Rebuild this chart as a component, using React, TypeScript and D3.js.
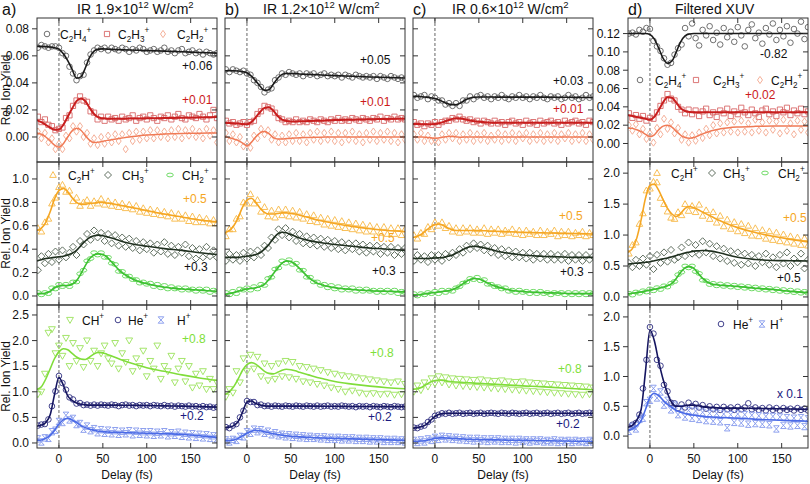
import React from 'react';
import * as d3 from 'd3';

// ---------- delays ----------
const DELAYS = [-24,-20,-16,-12,-8,-4,0,4,8,12,16,20,24,28,32,36,40,44,48,52,56,60,64,68,72,76,80,84,88,92,96,100,104,108,112,116,120,124,128,132,136,140,144,148,152,156,160,164,168,172,176,180];
const FIT_DELAYS = [-25,-20,-15,-10,-5,0,5,10,15,20,25,30,35,40,45,50,55,60,70,80,90,100,120,140,160,180];
const X_TICKS = [0, 50, 100, 150];

// ---------- row 1 (units of 0.001) ----------
const A_C2H4 = [66,68,67,66,67,67,66,62,60,52,47,42,45,46,55,61,64,66,65,66,64,66,65,64,66,65,63,65,64,66,65,63,64,65,63,64,66,63,64,62,64,65,62,63,64,62,63,61,63,62,61,62];
const A_C2H4_FIT = [67,67,66.8,66.5,66,65,61.5,56.5,50,43.5,44.5,51,59,63.5,65,65.2,65,64.8,64.5,64.3,64.1,63.9,63.5,63,62.5,62];
const A_C2H3 = [15,11,13,9,8,5,6,7,14,16,23,27,30,27,26,19,18,13,15,12,15,13,14,12,15,13,14,16,12,14,15,13,16,14,12,15,14,16,13,15,17,14,13,16,15,14,17,15,13,16,20,14];
const A_C2H3_FIT = [12.5,11,9,7,5.3,5.5,9,15,21,26.5,28.5,26.5,21.5,17,14.5,13.8,13.5,13.5,13.5,13.6,13.7,13.8,14,14.2,14.5,14.8];
const A_C2H2 = [4,-1,3,-4,-1,-9,-5,-9,1,-1,8,4,8,0,3,-5,-1,-6,0,-5,1,-4,2,-3,2,-9,3,-3,4,-2,4,-1,5,-1,5,0,4,-1,5,0,6,-1,5,1,6,0,4,-1,6,1,5,-4];
const A_C2H2_FIT = [3,2,0,-3,-6,-7.5,-5,0,4.5,6.5,5,1,-2.5,-4,-3.8,-3.2,-2.5,-2,-1,0,0.8,1.5,2.2,2.6,2.8,3];

const B_C2H4 = [50,48,50,49,48,49,47,46,42,40,37,33,35,36,42,44,47,46,48,47,46,47,45,47,46,47,45,46,47,45,46,45,46,44,46,45,44,46,45,44,45,44,45,43,45,44,43,45,44,43,44,43];
const B_C2H4_FIT = [49,49,49,48.8,48.3,47.5,45,41.5,37.5,34.5,35,39,43.5,46.3,47,47,46.8,46.6,46.3,46,45.7,45.4,44.9,44.4,44,43.6];
const B_C2H3 = [12,10,11,9,10,11,9,11,12,17,19,23,22,21,18,14,13,11,12,11,13,11,12,11,13,12,11,13,12,11,13,12,14,12,13,12,14,13,12,14,13,12,14,13,15,12,14,13,15,13,14,13];
const B_C2H3_FIT = [10.5,10.3,10.1,9.9,9.6,9.5,11,14.5,18.5,21.5,22,19.5,15.5,12.8,11.8,11.5,11.5,11.6,11.8,12,12.2,12.5,12.8,13.1,13.3,13.5];
const B_C2H2 = [3,-3,2,-4,0,-7,-5,-8,1,-1,6,2,5,-2,2,-4,1,-4,2,-3,3,-3,2,-4,3,-2,4,-3,3,-2,4,-3,3,-4,3,-2,4,-3,2,-4,3,-2,4,-3,3,-2,4,-3,3,-4,2,-2];
const B_C2H2_FIT = [0,-0.5,-1.5,-2.5,-4.5,-6.5,-4,0,3,4,2.5,-0.5,-1.5,-1.5,-1.2,-1,-0.8,-0.6,-0.4,-0.2,0,0,0,0,0,0];

const C_C2H4 = [31,29,30,31,28,30,29,27,27,24,25,23,25,23,27,27,30,28,30,31,29,30,28,30,29,31,29,28,30,29,31,29,30,28,30,29,31,29,28,30,29,30,28,29,31,29,30,28,29,31,29,30];
const C_C2H4_FIT = [30,30,29.8,29.5,29,28.5,27.3,25.8,24.5,23.8,24,25.5,27.5,28.8,29.4,29.6,29.6,29.6,29.5,29.5,29.5,29.5,29.5,29.4,29.3,29.2];
const C_C2H3 = [11,9,10,8,10,9,11,9,11,12,12,14,13,15,13,12,13,11,12,10,12,11,10,12,10,11,9,11,12,10,11,9,12,10,11,9,12,10,11,12,10,11,9,12,10,11,12,10,11,9,12,11];
const C_C2H3_FIT = [9.6,9.6,9.5,9.5,9.5,9.6,10.2,11.2,12.4,13.4,13.8,13.6,12.9,12.2,11.6,11.2,11,10.8,10.6,10.5,10.5,10.5,10.5,10.5,10.5,10.5];
const C_C2H2 = [2,-2,3,-3,1,-3,-2,-4,2,-2,3,-1,3,-3,2,-2,3,-3,2,-2,3,-3,1,-2,3,-3,2,-2,3,-3,2,-1,3,-3,2,-2,3,-3,2,-2,3,-3,2,-1,3,-3,2,-2,3,-3,2,-2];
const C_C2H2_FIT = [0,0,0,-0.2,-0.6,-1,-0.6,0,0.3,0.3,0,-0.2,0,0,0,0,0,0,0,0,0,0,0,0,0,0];

const D_C2H4 = [120,121,119,124,122,126,125,112,106,101,93,86,88,97,104,108,126,117,131,115,107,124,118,128,113,121,108,126,116,122,111,127,118,106,124,130,115,121,109,126,119,131,113,124,117,128,110,125,120,133,114,127];
const D_C2H4_FIT = [120,120,120,120,120,119,114,104,93,87.5,90,100,111,117.5,119.5,120,120,120,120,120,120,120,120,120,120,120];
const D_C2H3 = [33,28,31,27,30,25,28,27,34,41,47,54,49,47,40,37,33,37,32,36,30,35,38,31,34,29,36,33,38,30,35,32,39,34,31,37,33,29,36,38,32,35,30,37,34,39,31,36,33,38,32,35];
const D_C2H3_FIT = [31,30,29,28,27,26,29,36.5,45,50.5,50,44.5,38.5,35.5,34.5,34,34,34,34,34,34,34,34,34,34,34];
const D_C2H2 = [20,14,21,10,16,5,11,1,17,10,27,16,23,11,17,4,10,1,9,3,12,6,16,9,20,11,22,12,23,13,24,12,25,13,22,12,26,14,23,12,25,15,24,11,26,14,22,10,25,15,24,12];
const D_C2H2_FIT = [17,16.5,15,13,10,7.5,9.5,15,19,20,18,13.5,9,6.5,5.7,6.5,8.5,10.5,14,16,17.3,18,18.7,19,19,19];

// ---------- row 2 (units of 0.01) ----------
const A_C2H = [58,55,63,66,79,84,93,95,89,90,81,84,77,80,82,77,81,79,83,78,81,77,80,76,79,75,78,74,77,72,75,71,74,70,73,69,72,68,71,66,70,66,69,64,68,63,67,63,66,62,65,62];
const A_C2H_FIT = [56,58,63,72,83,90,92,89,84,80,78.5,78.5,79,79.5,80,80,79.5,79,77.5,76,74.5,73,70,67.5,65,63.5];
const A_CH3 = [22,34,28,36,29,38,31,39,33,37,42,35,47,44,53,48,56,50,54,47,53,45,52,43,50,42,49,41,47,39,46,40,45,37,44,38,46,36,43,35,42,37,44,34,41,32,40,33,42,34,39,33];
const A_CH3_FIT = [30,31,32,32.5,33,33.5,34,35,36.5,39,43,47,50,51.5,52,51.5,50.5,49.5,47,45,43.5,42.5,40.5,39,37,35.5];
const A_CH2 = [3,1,3,2,7,6,10,8,10,8,12,12,19,22,30,32,37,35,37,33,33,28,27,21,21,17,17,14,14,11,12,10,11,8,10,7,9,6,8,6,7,5,7,5,6,4,6,4,6,3,5,4];
const A_CH2_FIT = [2,2,2.5,4,7,8.5,9,9,10,13,19,26,32,35,36,35.5,33,29,21,16,12.5,10.5,7.5,6,5,4];

const B_C2H = [51,57,57,66,68,80,79,87,79,82,72,76,68,73,67,74,69,74,68,73,67,72,66,70,64,69,63,67,61,66,60,65,59,64,58,63,57,62,56,61,55,60,55,59,54,59,53,58,53,58,52,57];
const B_C2H_FIT = [54,56,60,67,76,82,83.5,80,75,71.5,70,70,70.5,71,71,70.5,70,69,67,65,63.5,62,59.5,57.5,56,55];
const B_CH3 = [30,36,31,35,30,37,32,38,33,39,35,43,41,50,48,57,52,58,50,55,47,53,45,51,44,50,43,49,42,48,41,47,40,46,39,45,40,45,38,44,37,43,38,43,36,42,37,42,35,41,36,41];
const B_CH3_FIT = [33,33,33,33,33.5,34,34.5,35.5,37,40,44,49,53,54.5,54,52.5,51,49.5,47.5,46,45,44,42.5,41,40,39];
const B_CH2 = [3,1,4,2,6,5,7,5,8,6,10,9,15,16,23,24,30,28,31,27,28,22,22,16,16,12,12,9,10,7,9,6,8,5,7,5,7,4,6,4,6,4,5,3,5,3,5,3,5,2,4,3];
const B_CH2_FIT = [1.5,2,3,4,5,6,6.5,7,8,10,14,19,24,28,30,29.5,27,23.5,16,11,8.5,7,5.5,4.5,4,3.5];

const C_C2H = [52,49,54,53,59,57,63,60,63,58,60,55,58,54,58,55,58,54,57,54,58,53,57,54,57,53,56,54,57,53,56,52,56,53,55,52,56,52,55,53,56,51,55,52,55,51,54,52,55,51,54,52];
const C_C2H_FIT = [50,51,53,56,59,61,61.5,60,58,56.5,56,56,56,56,56,56,55.8,55.6,55.3,55,54.7,54.5,54,53.7,53.4,53];
const C_CH3 = [30,35,31,34,29,35,31,35,30,36,33,37,35,40,37,43,40,45,41,44,39,43,37,41,35,40,34,39,33,38,33,37,32,37,31,36,32,36,31,36,31,35,31,36,30,35,31,35,30,35,31,34];
const C_CH3_FIT = [32,32,32,32,32.2,32.5,32.7,33,34,35,37,39,40.8,42,42.5,42,41.3,40.5,38.5,37,36,35,34,33.5,33,33];
const C_CH2 = [2,0,2,1,3,2,4,2,5,3,5,4,7,8,11,12,15,14,16,13,14,10,10,8,8,6,7,4,5,3,5,3,4,2,4,2,4,2,3,1,3,2,3,1,3,1,3,1,3,1,3,2];
const C_CH2_FIT = [1,1,1.5,2,2.5,3,3.5,4,4.5,5.5,7,9.5,12,14,15,14.5,13,11,8,6,4.5,3.8,3,2.5,2,2];

const D_C2H = [70,84,88,118,135,172,175,186,185,160,150,138,128,126,137,132,150,139,147,137,149,131,140,126,137,120,131,114,125,110,121,106,118,103,115,99,111,98,108,94,106,92,104,90,101,88,98,86,96,84,95,83];
const D_C2H_FIT = [72,78,95,125,160,180,182,172,157,143,134,130,135,143,146,144,141,137,130,123,117,112,104,98,93,89];
const D_CH3 = [55,48,60,50,62,52,66,45,68,55,72,57,76,60,64,80,66,88,70,84,68,90,72,86,66,82,62,78,58,74,55,72,52,70,54,68,50,66,56,70,52,64,48,68,54,72,50,62,56,70,46,60];
const D_CH3_FIT = [53,54,54.5,55,56,57,58.5,60,61.5,63,65,67,69,71,72.5,74,74.5,75,74,71,67.5,64,60.5,59,58.5,58];
const D_CH2 = [6,3,8,6,10,8,13,10,15,12,18,16,22,25,36,40,50,47,50,41,38,27,26,20,22,18,21,17,20,16,19,15,18,14,17,13,16,12,15,11,14,10,13,9,12,8,11,7,10,6,9,6];
const D_CH2_FIT = [5,6,7,8,9.5,11,12.5,14,16,18,22,30,40,47,49,46,38,30,21,19,18,17,14,12,9,7];

// ---------- row 3 (units of 0.01) ----------
const A_CH = [95,100,135,215,222,175,190,170,205,150,195,160,185,148,200,160,180,150,175,190,165,155,195,145,175,158,200,140,165,150,180,130,160,145,190,125,150,140,170,118,145,160,120,150,108,135,112,140,105,125,105,118];
const A_CH_FIT = [105,110,125,145,165,178,184,182,175,168,164,163,168,174,177,176,173,170,163,157,152,147,140,133,127,122];
const A_HE = [34,36,37,46,72,101,131,117,104,89,85,77,78,74,75,73,75,73,75,74,73,75,74,72,74,75,73,74,72,74,73,74,72,74,73,72,74,72,73,71,73,72,71,73,71,72,70,72,70,71,69,70];
const A_HE_FIT = [33,35,40,55,95,128,113,92,83,78,75.5,74.5,74,74,74,74,74,74,73.8,73.6,73.4,73.2,72.5,72,71,70];
const A_H = [8,2,10,9,22,25,42,40,54,45,48,36,38,27,33,24,28,20,26,19,25,18,24,17,23,18,24,16,23,17,22,16,22,15,21,16,22,14,20,15,21,13,19,12,18,11,17,10,16,9,14,8];
const A_H_FIT = [5,6,9,15,25,37,45,48,45,40,34,30,27,25,23,22,21.5,21,20.5,20,19.5,19,18,17,14,11];

const B_CH = [90,105,98,140,118,165,140,172,145,168,130,155,122,150,125,155,130,160,128,158,125,150,120,148,118,145,115,142,112,138,108,135,105,132,100,130,102,128,98,126,96,124,97,122,95,120,96,118,94,120,95,115];
const B_CH_FIT = [95,100,110,125,142,153,157,154,147,140,136,135,138,142,144,143,141,138,133,128,124,120,115,111,108,106];
const B_HE = [31,29,34,37,50,63,82,80,80,74,75,72,73,71,73,72,71,73,72,71,73,72,71,73,72,71,73,71,72,73,71,72,71,73,72,71,72,70,72,71,72,70,72,71,70,72,71,70,72,71,70,71];
const B_HE_FIT = [30,31,34,42,60,80,82,77,74,72.5,72,72,72,72,72,72,72,72,72,72,71.8,71.6,71.4,71.2,71,71];
const B_H = [6,2,7,5,13,12,22,19,27,22,26,19,23,16,20,14,17,12,16,11,15,10,14,9,13,9,12,8,12,7,11,7,11,6,10,6,10,5,9,5,9,4,8,4,8,3,7,3,7,3,6,2];
const B_H_FIT = [4,5,6,9,14,19,23,25,24,22,20,18,16.5,15,14,13,12.5,12,11,10,9.5,9,8,7,6,5];

const C_CH = [100,112,103,118,110,126,116,130,118,128,114,126,112,125,111,124,110,123,109,124,108,122,107,121,106,122,105,120,104,119,103,120,102,118,101,117,100,116,99,115,98,114,97,113,96,112,95,111,94,110,95,108];
const C_CH_FIT = [105,106,109,114,119,122,123,122,120.5,119.5,119,118.5,118,117.5,117,116.5,116,115.5,114.5,113.5,112.5,111.5,110,108,106,104];
const C_HE = [30,29,32,34,41,46,53,55,58,57,59,57,58,59,57,58,59,57,58,59,57,58,59,58,57,59,58,57,59,58,57,58,59,57,58,59,57,58,59,57,58,59,57,58,59,57,58,59,57,58,59,58];
const C_HE_FIT = [29,30,32,36,44,52,56,57.5,58,58,58,58,58,58,58,58,58,58,58,58,58,58,58,58,58,58];
const C_H = [5,1,6,2,8,5,11,7,13,8,12,7,11,6,10,5,9,4,9,4,8,3,8,4,8,3,7,3,7,2,7,3,6,2,6,3,6,2,5,2,6,1,5,2,5,1,5,2,4,1,5,2];
const C_H_FIT = [3,3.5,4,5,7,9,10,10,9.5,9,8.5,8,7.5,7,6.8,6.6,6.4,6.2,6,5.6,5.3,5,4.5,4,3.5,3];

const D_HE = [14,19,22,36,80,128,183,172,128,118,86,75,56,55,47,53,48,56,50,54,48,52,46,50,45,49,44,49,45,48,44,49,45,48,55,45,48,44,47,43,48,44,47,43,47,44,46,43,47,44,46,43];
const D_HE_FIT = [15,18,27,45,110,178,160,125,95,72,56,50,50,51,52,52,51,49.5,48,47,47,47,46.5,46,45.5,45];
const D_H = [8,16,12,28,30,56,60,80,64,74,52,60,44,52,36,46,32,43,30,42,28,40,26,38,25,38,24,37,14,36,23,37,22,36,20,35,21,34,20,33,19,33,12,32,18,31,17,30,18,31,16,29];
const D_H_FIT = [10,12,17,26,45,65,72,68,60,53,48,43,40,38,36,35,34,33,32,31,30.5,30,28,27,26,25];

// ---------- styling ----------
const FONT = '"Liberation Sans", Arial, Helvetica, sans-serif';
const STY: Record<string, { sym: string; mk: string; ln: string; lw: number }> = {
  C2H4: { sym: 'circle', mk: '#606060', ln: '#1a1a1a', lw: 1.6 },
  C2H3: { sym: 'square', mk: '#d86868', ln: '#c81e1e', lw: 2 },
  C2H2: { sym: 'diamondTall', mk: '#f3a68c', ln: '#f07a55', lw: 1.5 },
  C2H: { sym: 'triUp', mk: '#f7b845', ln: '#f5a623', lw: 1.6 },
  CH3: { sym: 'diamond', mk: '#4d5e4d', ln: '#1f2f1f', lw: 1.6 },
  CH2: { sym: 'ellipse', mk: '#5fd655', ln: '#3cc030', lw: 1.6 },
  CH: { sym: 'triDown', mk: '#9ae25a', ln: '#80dd3a', lw: 1.6 },
  HE: { sym: 'circle', mk: '#2e2e80', ln: '#151560', lw: 1.6 },
  H: { sym: 'hourglass', mk: '#8196ec', ln: '#4a6ae6', lw: 1.6 },
};
const SYM_PATH: Record<string, string> = {
  square: 'M-2.6,-2.6h5.2v5.2h-5.2z',
  diamondTall: 'M0,-3.6L2.5,0L0,3.6L-2.5,0Z',
  diamond: 'M0,-3.5L3.5,0L0,3.5L-3.5,0Z',
  triUp: 'M0,-3.4L3.3,2.4L-3.3,2.4Z',
  triDown: 'M0,3.4L3.4,-2.6L-3.4,-2.6Z',
  hourglass: 'M-2.8,-3.2L2.8,-3.2L-2.8,3.2L2.8,3.2Z',
};

const COLS = [37, 225, 413, 628];
const PW = 180;
const ROWS: [number, number][] = [[18, 162], [162, 305], [305, 448]];

type S = { key: string; pts: number[]; fit: number[] };
type Cell = {
  row: number; col: number; dom: [number, number]; ticks: number[]; fmt: string; unit: number;
  series: S[];
  legend?: { y: number; items: { key: string; mx: number; tx: number; label: string }[] };
  notes: { text: string; color: string; x: number; y: number }[];
};

const T1 = [0, 0.02, 0.04, 0.06, 0.08];
const T1D = [0, 0.02, 0.04, 0.06, 0.08, 0.1, 0.12];
const T2 = [0, 0.2, 0.4, 0.6, 0.8, 1.0];
const T3 = [0, 0.5, 1.0, 1.5, 2.0, 2.5];
const TD = [0, 0.5, 1.0, 1.5, 2.0];

const RED = '#cc1a1a', ORANGE = '#f5a623', GREEN = '#7ee03a', NAVY = '#1a1a80', BLACK = '#111';

const LEG1 = (x: number[], t: number[], y: number) => ({ y, items: [
  { key: 'C2H4', mx: x[0], tx: t[0], label: 'C_2H_4^+' },
  { key: 'C2H3', mx: x[1], tx: t[1], label: 'C_2H_3^+' },
  { key: 'C2H2', mx: x[2], tx: t[2], label: 'C_2H_2^+' },
] });
const LEG2 = (x: number[], t: number[], y: number) => ({ y, items: [
  { key: 'C2H', mx: x[0], tx: t[0], label: 'C_2H^+' },
  { key: 'CH3', mx: x[1], tx: t[1], label: 'CH_3^+' },
  { key: 'CH2', mx: x[2], tx: t[2], label: 'CH_2^+' },
] });

const CELLS: Cell[] = [
  { row: 0, col: 0, dom: [-0.0185, 0.088], ticks: T1, fmt: '.2f', unit: 0.001,
    series: [{ key: 'C2H4', pts: A_C2H4, fit: A_C2H4_FIT }, { key: 'C2H3', pts: A_C2H3, fit: A_C2H3_FIT }, { key: 'C2H2', pts: A_C2H2, fit: A_C2H2_FIT }],
    legend: LEG1([10, 70, 126], [23, 81, 140], 16),
    notes: [{ text: '+0.06', color: BLACK, x: 145, y: 52 }, { text: '+0.01', color: RED, x: 145, y: 86 }] },
  { row: 0, col: 1, dom: [-0.0185, 0.088], ticks: T1, fmt: '.2f', unit: 0.001,
    series: [{ key: 'C2H4', pts: B_C2H4, fit: B_C2H4_FIT }, { key: 'C2H3', pts: B_C2H3, fit: B_C2H3_FIT }, { key: 'C2H2', pts: B_C2H2, fit: B_C2H2_FIT }],
    notes: [{ text: '+0.05', color: BLACK, x: 135, y: 46 }, { text: '+0.01', color: RED, x: 135, y: 88 }] },
  { row: 0, col: 2, dom: [-0.0185, 0.088], ticks: T1, fmt: '.2f', unit: 0.001,
    series: [{ key: 'C2H4', pts: C_C2H4, fit: C_C2H4_FIT }, { key: 'C2H3', pts: C_C2H3, fit: C_C2H3_FIT }, { key: 'C2H2', pts: C_C2H2, fit: C_C2H2_FIT }],
    notes: [{ text: '+0.03', color: BLACK, x: 140, y: 67 }, { text: '+0.01', color: RED, x: 140, y: 95 }] },
  { row: 0, col: 3, dom: [-0.0202, 0.137], ticks: T1D, fmt: '.2f', unit: 0.001,
    series: [{ key: 'C2H4', pts: D_C2H4, fit: D_C2H4_FIT }, { key: 'C2H3', pts: D_C2H3, fit: D_C2H3_FIT }, { key: 'C2H2', pts: D_C2H2, fit: D_C2H2_FIT }],
    legend: LEG1([12, 68, 132], [27, 85, 143], 62),
    notes: [{ text: '-0.82', color: BLACK, x: 132, y: 40 }, { text: '+0.02', color: RED, x: 117, y: 81 }] },

  { row: 1, col: 0, dom: [-0.077, 1.145], ticks: T2, fmt: '.1f', unit: 0.01,
    series: [{ key: 'C2H', pts: A_C2H, fit: A_C2H_FIT }, { key: 'CH3', pts: A_CH3, fit: A_CH3_FIT }, { key: 'CH2', pts: A_CH2, fit: A_CH2_FIT }],
    legend: LEG2([16, 71, 133], [31, 85, 145], 13),
    notes: [{ text: '+0.5', color: ORANGE, x: 146, y: 41 }, { text: '+0.3', color: BLACK, x: 147, y: 109 }] },
  { row: 1, col: 1, dom: [-0.077, 1.145], ticks: T2, fmt: '.1f', unit: 0.01,
    series: [{ key: 'C2H', pts: B_C2H, fit: B_C2H_FIT }, { key: 'CH3', pts: B_CH3, fit: B_CH3_FIT }, { key: 'CH2', pts: B_CH2, fit: B_CH2_FIT }],
    notes: [{ text: '+0.5', color: ORANGE, x: 146, y: 80 }, { text: '+0.3', color: BLACK, x: 147, y: 113 }] },
  { row: 1, col: 2, dom: [-0.077, 1.145], ticks: T2, fmt: '.1f', unit: 0.01,
    series: [{ key: 'C2H', pts: C_C2H, fit: C_C2H_FIT }, { key: 'CH3', pts: C_CH3, fit: C_CH3_FIT }, { key: 'CH2', pts: C_CH2, fit: C_CH2_FIT }],
    notes: [{ text: '+0.5', color: ORANGE, x: 146, y: 58 }, { text: '+0.3', color: BLACK, x: 147, y: 114 }] },
  { row: 1, col: 3, dom: [-0.13, 2.18], ticks: TD, fmt: '.1f', unit: 0.01,
    series: [{ key: 'C2H', pts: D_C2H, fit: D_C2H_FIT }, { key: 'CH3', pts: D_CH3, fit: D_CH3_FIT }, { key: 'CH2', pts: D_CH2, fit: D_CH2_FIT }],
    legend: LEG2([29, 84, 137], [43, 95, 150], 11),
    notes: [{ text: '+0.5', color: ORANGE, x: 155, y: 60 }, { text: '+0.5', color: BLACK, x: 149, y: 120 }] },

  { row: 2, col: 0, dom: [-0.098, 2.695], ticks: T3, fmt: '.1f', unit: 0.01,
    series: [{ key: 'CH', pts: A_CH, fit: A_CH_FIT }, { key: 'HE', pts: A_HE, fit: A_HE_FIT }, { key: 'H', pts: A_H, fit: A_H_FIT }],
    legend: { y: 15, items: [
      { key: 'CH', mx: 33, tx: 45, label: 'CH^+' },
      { key: 'HE', mx: 81, tx: 91, label: 'He^+' },
      { key: 'H', mx: 124, tx: 140, label: 'H^+' }] },
    notes: [{ text: '+0.8', color: GREEN, x: 145, y: 38 }, { text: '+0.2', color: NAVY, x: 143, y: 115 }] },
  { row: 2, col: 1, dom: [-0.098, 2.695], ticks: T3, fmt: '.1f', unit: 0.01,
    series: [{ key: 'CH', pts: B_CH, fit: B_CH_FIT }, { key: 'HE', pts: B_HE, fit: B_HE_FIT }, { key: 'H', pts: B_H, fit: B_H_FIT }],
    notes: [{ text: '+0.8', color: GREEN, x: 145, y: 52 }, { text: '+0.2', color: NAVY, x: 143, y: 116 }] },
  { row: 2, col: 2, dom: [-0.098, 2.695], ticks: T3, fmt: '.1f', unit: 0.01,
    series: [{ key: 'CH', pts: C_CH, fit: C_CH_FIT }, { key: 'HE', pts: C_HE, fit: C_HE_FIT }, { key: 'H', pts: C_H, fit: C_H_FIT }],
    notes: [{ text: '+0.8', color: GREEN, x: 145, y: 68 }, { text: '+0.2', color: NAVY, x: 143, y: 123 }] },
  { row: 2, col: 3, dom: [-0.2, 2.2], ticks: TD, fmt: '.1f', unit: 0.01,
    series: [{ key: 'HE', pts: D_HE, fit: D_HE_FIT }, { key: 'H', pts: D_H, fit: D_H_FIT }],
    legend: { y: 19, items: [
      { key: 'HE', mx: 93, tx: 105, label: 'He^+' },
      { key: 'H', mx: 134, tx: 142, label: 'H^+' }] },
    notes: [{ text: 'x 0.1', color: NAVY, x: 149, y: 93 }] },
];

const TITLES = [
  { tag: 'a)', tx: 77, parts: 'IR 1.9×10^{12} W/cm^2' },
  { tag: 'b)', tx: 263, parts: 'IR 1.2×10^{12} W/cm^2' },
  { tag: 'c)', tx: 452, parts: 'IR 0.6×10^{12} W/cm^2' },
  { tag: 'd)', tx: 675, parts: 'Filtered XUV' },
];

// parse "C_2H_4^+" / "10^{12}" into runs
function parseRich(s: string) {
  const out: { t: string; k: 'n' | 'sub' | 'sup' }[] = [];
  let i = 0;
  while (i < s.length) {
    const c = s[i];
    if (c === '_' || c === '^') {
      const k = c === '_' ? 'sub' : 'sup';
      let t = '';
      if (s[i + 1] === '{') {
        const j = s.indexOf('}', i + 2);
        t = s.slice(i + 2, j);
        i = j + 1;
      } else {
        t = s[i + 1];
        i += 2;
      }
      out.push({ t, k });
    } else {
      let j = i;
      while (j < s.length && s[j] !== '_' && s[j] !== '^') j++;
      out.push({ t: s.slice(i, j), k: 'n' });
      i = j;
    }
  }
  return out;
}

function Rich({ s, x, y, size, fill, anchor }: { s: string; x: number; y: number; size: number; fill: string; anchor?: string }) {
  const runs = parseRich(s);
  let cur = 0;
  const small = size * 0.68;
  return (
    <text x={x} y={y} fontSize={size} fill={fill} fontFamily={FONT} textAnchor={anchor || 'start'} style={{ whiteSpace: 'pre' }}>
      {runs.map((r, i) => {
        const target = r.k === 'sub' ? size * 0.28 : r.k === 'sup' ? -size * 0.42 : 0;
        const dy = target - cur;
        cur = target;
        return (
          <tspan key={i} dy={dy} fontSize={r.k === 'n' ? size : small}>{r.t}</tspan>
        );
      })}
    </text>
  );
}

function Marker({ sym, x, y, color }: { sym: string; x: number; y: number; color: string }) {
  const common = { fill: 'none', stroke: color, strokeWidth: 0.9 };
  if (sym === 'circle') return <circle cx={x} cy={y} r={2.8} {...common} />;
  if (sym === 'ellipse') return <ellipse cx={x} cy={y} rx={3.3} ry={1.9} {...common} />;
  return <path d={SYM_PATH[sym]} transform={`translate(${x},${y})`} {...common} />;
}

function CellView({ c, idx }: { c: Cell; idx: number }) {
  const x0 = COLS[c.col];
  const [y0, y1] = ROWS[c.row];
  const xs = d3.scaleLinear().domain([-25, 180]).range([x0, x0 + PW]);
  const ys = d3.scaleLinear().domain(c.dom).range([y1, y0]);
  const fmt = d3.format(c.fmt);
  const line = d3.line<[number, number]>().x((d) => xs(d[0])).y((d) => ys(d[1])).curve(d3.curveMonotoneX);
  const clipId = `clip${idx}`;
  const labeled = c.col === 0 || c.col === 3;
  const tk = 5;
  return (
    <g>
      <defs>
        <clipPath id={clipId}>
          <rect x={x0} y={y0} width={PW} height={y1 - y0} />
        </clipPath>
      </defs>
      <g clipPath={`url(#${clipId})`}>
        <line x1={xs(0)} x2={xs(0)} y1={y0} y2={y1} stroke="#555" strokeWidth={0.9} strokeDasharray="3,2" />
        {c.series.map((s, si) => {
          const st = STY[s.key];
          return (
            <g key={'p' + si}>
              {s.pts.map((v, i) => (
                <Marker key={i} sym={st.sym} x={xs(DELAYS[i])} y={ys(v * c.unit)} color={st.mk} />
              ))}
            </g>
          );
        })}
        {c.series.map((s, si) => {
          const st = STY[s.key];
          const pts: [number, number][] = s.fit.map((v, i) => [FIT_DELAYS[i], v * c.unit]);
          return <path key={'l' + si} d={line(pts) || ''} fill="none" stroke={st.ln} strokeWidth={st.lw} />;
        })}
      </g>
      <rect x={x0} y={y0} width={PW} height={y1 - y0} fill="none" stroke="#333" strokeWidth={1} />
      {X_TICKS.map((t) => (
        <g key={'xt' + t}>
          <line x1={xs(t)} x2={xs(t)} y1={y0} y2={y0 + tk} stroke="#333" />
          <line x1={xs(t)} x2={xs(t)} y1={y1} y2={y1 - tk} stroke="#333" />
        </g>
      ))}
      {c.ticks.map((t) => (
        <g key={'yt' + t}>
          <line x1={labeled ? x0 - tk : x0} x2={labeled ? x0 : x0 + tk} y1={ys(t)} y2={ys(t)} stroke="#333" />
          <line x1={x0 + PW - tk} x2={x0 + PW} y1={ys(t)} y2={ys(t)} stroke="#333" />
          {labeled && (
            <text x={x0 - 8} y={ys(t) + 4.3} fontSize={12} textAnchor="end" fontFamily={FONT} fill="#111">{fmt(t)}</text>
          )}
        </g>
      ))}
      {c.row === 2 && X_TICKS.map((t) => (
        <text key={'xl' + t} x={xs(t)} y={463} fontSize={12} textAnchor="middle" fontFamily={FONT} fill="#111">{t}</text>
      ))}
      {c.legend && c.legend.items.map((it, i) => (
        <g key={'lg' + i}>
          <Marker sym={STY[it.key].sym} x={x0 + it.mx} y={y0 + c.legend!.y} color={STY[it.key].mk} />
          <Rich s={it.label} x={x0 + it.tx} y={y0 + c.legend!.y + 4.5} size={12} fill="#111" />
        </g>
      ))}
      {c.notes.map((n, i) => (
        <text key={'n' + i} x={x0 + n.x} y={y0 + n.y} fontSize={12} fill={n.color} fontFamily={FONT}>{n.text}</text>
      ))}
    </g>
  );
}

export default function App() {
  return (
    <svg width={810} height={484} viewBox="0 0 810 484" style={{ position: 'absolute', left: 0, top: 0, background: '#fff' }}>
      <rect x={0} y={0} width={810} height={484} fill="#fff" />
      {CELLS.map((c, i) => <CellView key={i} c={c} idx={i} />)}
      {TITLES.map((t, i) => (
        <g key={'t' + i}>
          <text x={COLS[i] - (i === 0 ? 35 : 0)} y={15} fontSize={16} fontFamily={FONT} fill="#111">{t.tag}</text>
          <Rich s={t.parts} x={t.tx} y={14} size={14} fill="#111" />
        </g>
      ))}
      {ROWS.map((r, i) => (
        <text key={'yl' + i} transform={`translate(10,${(r[0] + r[1]) / 2}) rotate(-90)`} fontSize={12} textAnchor="middle" fontFamily={FONT} fill="#111">Rel. Ion Yield</text>
      ))}
      {COLS.map((x, i) => (
        <text key={'xl' + i} x={x + PW / 2} y={479} fontSize={12} textAnchor="middle" fontFamily={FONT} fill="#111">Delay (fs)</text>
      ))}
    </svg>
  );
}
